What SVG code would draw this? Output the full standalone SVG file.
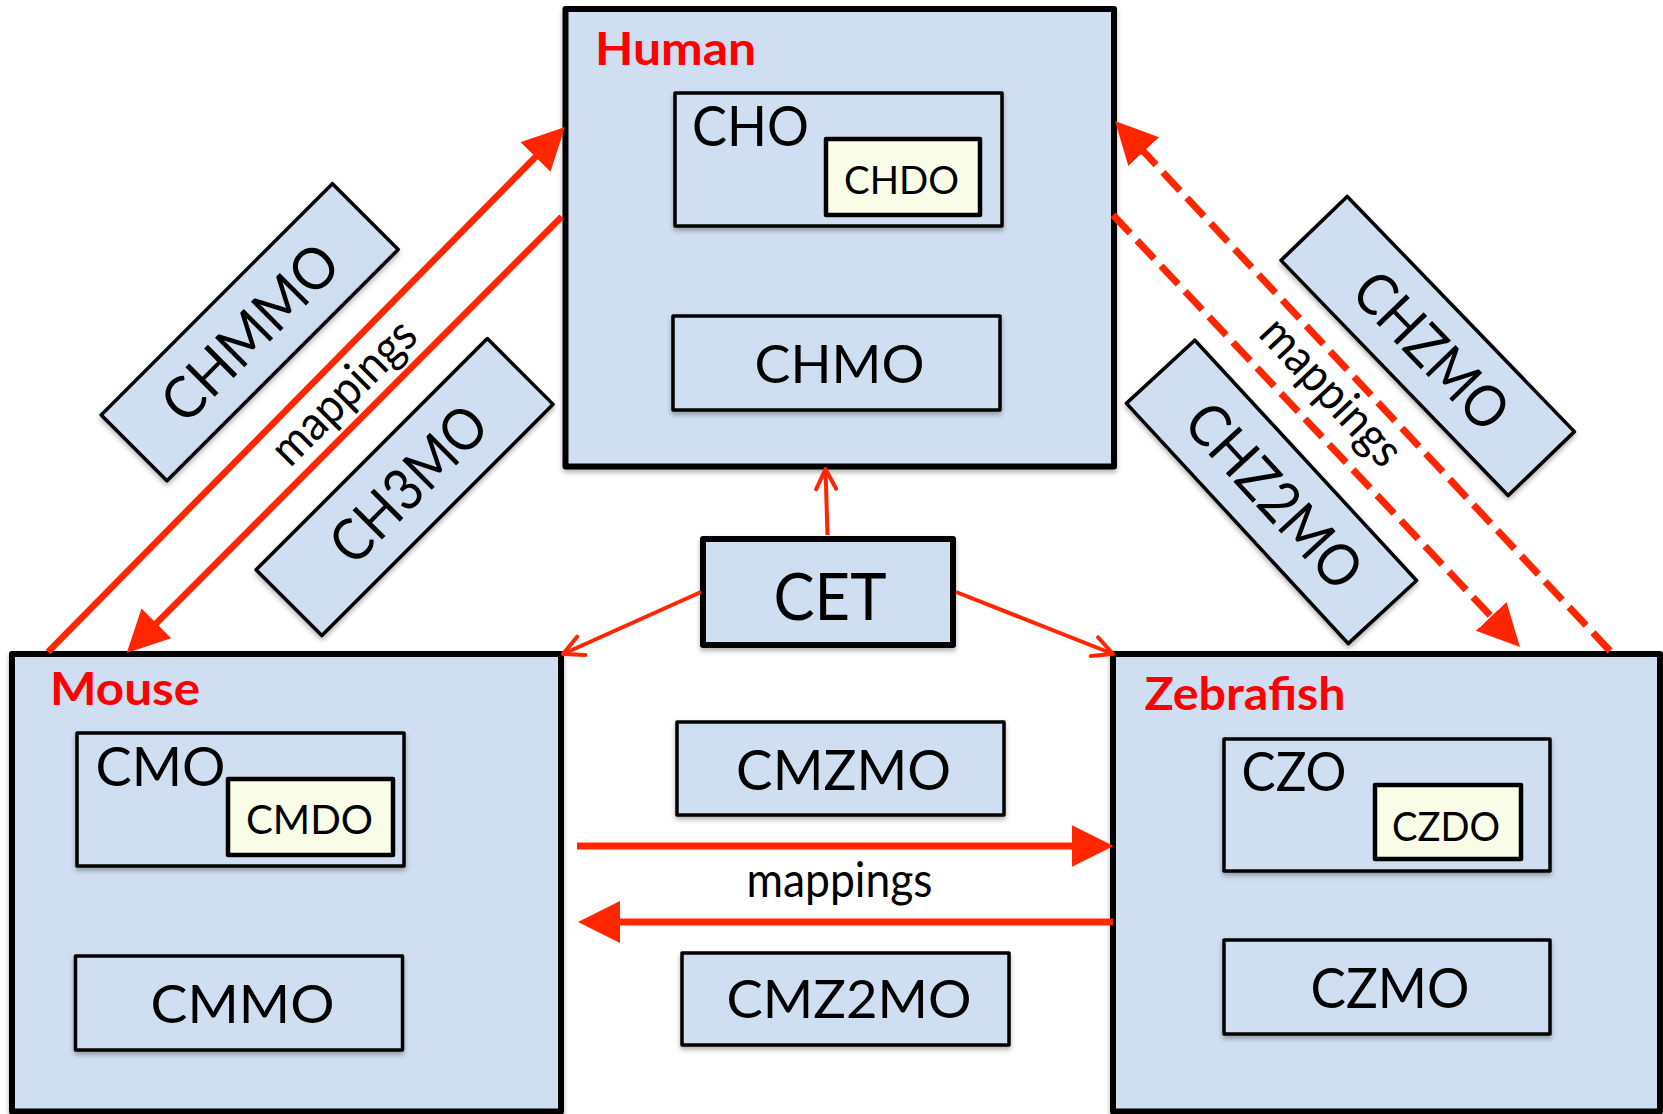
<svg xmlns="http://www.w3.org/2000/svg" width="1663" height="1114" viewBox="0 0 1663 1114">
<defs>
<style>
.box{fill:#cfdff1;stroke:#000;stroke-linejoin:round}
.outer{stroke-width:6}
.inner{stroke-width:3.5}
.leaf{fill:#f9fce6;stroke:#000;stroke-width:4.5;stroke-linejoin:round}
.rot{stroke-width:3.5}
.t{font-family:Lato,'Open Sans',sans-serif;fill:#000}
.lbl{font-family:Lato,'Open Sans',sans-serif;font-weight:bold;fill:#ff0000;font-size:46px}
.solid{stroke:#ff2600;fill:none;stroke-width:6.5}
.hz{stroke:#ff2600;fill:none;stroke-width:7}
.dash{stroke:#ff2600;fill:none;stroke-width:7;stroke-dasharray:25 10}
.thin{stroke:#ff2600;fill:none;stroke-width:4}
</style>
<filter id="sh" x="-10%" y="-10%" width="120%" height="130%">
<feDropShadow dx="0" dy="3" stdDeviation="2.5" flood-color="#000" flood-opacity="0.3"/>
</filter>
<marker id="head" markerUnits="userSpaceOnUse" markerWidth="44" markerHeight="44" viewBox="0 0 44 44" refX="12" refY="21" orient="auto">
<path d="M0,0 L42,21 L0,42 Z" fill="#ff2600"/>
</marker>
<marker id="open" markerUnits="userSpaceOnUse" markerWidth="30" markerHeight="28" viewBox="0 0 30 28" refX="24" refY="13" orient="auto" overflow="visible">
<path d="M4,3 L24,13 L4,23" fill="none" stroke="#ff2600" stroke-width="4" stroke-linecap="round" stroke-linejoin="round"/>
</marker>
</defs>
<rect width="1663" height="1114" fill="#fff"/>

<g id="human">
<rect class="box outer" filter="url(#sh)" x="565.5" y="9" width="548.5" height="457.5"/>
<text class="lbl" x="675.5" y="65" text-anchor="middle" textLength="161" lengthAdjust="spacingAndGlyphs">Human</text>
</g>
<g id="cho">
<rect class="box inner" filter="url(#sh)" x="675" y="93" width="327" height="133"/>
<text class="t" x="750.5" y="146" font-size="56" text-anchor="middle" textLength="117" lengthAdjust="spacingAndGlyphs">CHO</text>
</g>
<g id="chdo">
<rect class="leaf" x="826" y="139" width="154" height="76"/>
<text class="t" x="901.5" y="194" font-size="39" text-anchor="middle" textLength="115" lengthAdjust="spacingAndGlyphs">CHDO</text>
</g>
<g id="chmo">
<rect class="box inner" filter="url(#sh)" x="673" y="316" width="327" height="94"/>
<text class="t" x="839.5" y="383" font-size="53" text-anchor="middle" textLength="170" lengthAdjust="spacingAndGlyphs">CHMO</text>
</g>

<g id="mouse">
<rect class="box outer" filter="url(#sh)" x="12" y="654" width="549" height="457.5"/>
<text class="lbl" x="125" y="705" text-anchor="middle" textLength="150" lengthAdjust="spacingAndGlyphs">Mouse</text>
</g>
<g id="cmo">
<rect class="box inner" filter="url(#sh)" x="77" y="733" width="327" height="133"/>
<text class="t" x="160.5" y="786" font-size="54" text-anchor="middle" textLength="130" lengthAdjust="spacingAndGlyphs">CMO</text>
</g>
<g id="cmdo">
<rect class="leaf" x="228" y="779" width="165" height="76"/>
<text class="t" x="309.5" y="834" font-size="40" text-anchor="middle" textLength="127" lengthAdjust="spacingAndGlyphs">CMDO</text>
</g>
<g id="cmmo">
<rect class="box inner" filter="url(#sh)" x="75.5" y="956" width="327" height="94"/>
<text class="t" x="242.5" y="1023" font-size="53" text-anchor="middle" textLength="184" lengthAdjust="spacingAndGlyphs">CMMO</text>
</g>

<g id="zebrafish">
<rect class="box outer" filter="url(#sh)" x="1113" y="654" width="547" height="457.5"/>
<text class="lbl" x="1245" y="710" text-anchor="middle" textLength="201" lengthAdjust="spacingAndGlyphs">Zebrafish</text>
</g>
<g id="czo">
<rect class="box inner" filter="url(#sh)" x="1224" y="739" width="326" height="132"/>
<text class="t" x="1294" y="791" font-size="54" text-anchor="middle" textLength="105" lengthAdjust="spacingAndGlyphs">CZO</text>
</g>
<g id="czdo">
<rect class="leaf" x="1375" y="785" width="146" height="74"/>
<text class="t" x="1446" y="841" font-size="40" text-anchor="middle" textLength="108" lengthAdjust="spacingAndGlyphs">CZDO</text>
</g>
<g id="czmo">
<rect class="box inner" filter="url(#sh)" x="1224" y="940" width="326" height="94"/>
<text class="t" x="1390" y="1008" font-size="56" text-anchor="middle" textLength="159" lengthAdjust="spacingAndGlyphs">CZMO</text>
</g>

<g id="cet">
<rect class="box outer" filter="url(#sh)" x="703" y="539" width="250" height="106"/>
<text class="t" x="830" y="620" font-size="65" text-anchor="middle" textLength="113" lengthAdjust="spacingAndGlyphs">CET</text>
</g>
<g id="cmzmo">
<rect class="box inner" filter="url(#sh)" x="677" y="722" width="327" height="93"/>
<text class="t" x="843.6" y="790" font-size="57" text-anchor="middle" textLength="215" lengthAdjust="spacingAndGlyphs">CMZMO</text>
</g>
<g id="cmz2mo">
<rect class="box inner" filter="url(#sh)" x="682" y="953" width="327" height="92"/>
<text class="t" x="849" y="1018" font-size="53" text-anchor="middle" textLength="245" lengthAdjust="spacingAndGlyphs">CMZ2MO</text>
</g>

<g id="chmmo">
<g filter="url(#sh)"><rect class="box rot" transform="translate(249.7,332.2) rotate(-45)" x="-163.5" y="-46.5" width="327" height="93"/></g>
<text class="t" transform="translate(249.7,332.2) rotate(-45)" x="0" y="21" font-size="58" text-anchor="middle" textLength="224" lengthAdjust="spacingAndGlyphs">CHMMO</text>
</g>
<g id="ch3mo">
<g filter="url(#sh)"><rect class="box rot" transform="translate(404.6,487.1) rotate(-45)" x="-163.5" y="-46.5" width="327" height="93"/></g>
<text class="t" transform="translate(404.6,487.1) rotate(-45)" x="5" y="21" font-size="58" text-anchor="middle" textLength="196" lengthAdjust="spacingAndGlyphs">CH3MO</text>
</g>
<g id="chzmo">
<g filter="url(#sh)"><rect class="box rot" transform="translate(1427.7,346) rotate(46)" x="-163.5" y="-46" width="327" height="92"/></g>
<text class="t" transform="translate(1427.7,346) rotate(46)" x="6" y="21" font-size="58" text-anchor="middle" textLength="195" lengthAdjust="spacingAndGlyphs">CHZMO</text>
</g>
<g id="chz2mo">
<g filter="url(#sh)"><rect class="box rot" transform="translate(1271.5,491.9) rotate(47.3)" x="-163.5" y="-46.5" width="327" height="93"/></g>
<text class="t" transform="translate(1271.5,491.9) rotate(47.3)" x="4.6" y="21" font-size="58" text-anchor="middle" textLength="230" lengthAdjust="spacingAndGlyphs">CHZ2MO</text>
</g>

<g id="connectors">
<line class="solid" x1="48" y1="652" x2="543.95" y2="148.4" marker-end="url(#head)"/>
<line class="solid" x1="561.7" y1="216.7" x2="147.9" y2="631.8" marker-end="url(#head)"/>
<line class="hz" x1="577" y1="846" x2="1083.6" y2="846" marker-end="url(#head)"/>
<line class="hz" x1="1113" y1="922" x2="608" y2="922" marker-end="url(#head)"/>
<line class="dash" x1="1610" y1="651" x2="1135.5" y2="142.9" marker-end="url(#head)"/>
<line class="dash" x1="1113" y1="215" x2="1499.4" y2="625.2" marker-end="url(#head)"/>
<line class="thin" x1="701" y1="592" x2="563" y2="654" marker-end="url(#open)"/>
<line class="thin" x1="956" y1="592" x2="1113" y2="654" marker-end="url(#open)"/>
<line class="thin" x1="827.5" y1="535" x2="825.5" y2="469" marker-end="url(#open)"/>
<text class="t" x="839.5" y="897" font-size="48" text-anchor="middle" textLength="186" lengthAdjust="spacingAndGlyphs">mappings</text>
<text class="t" transform="translate(355,403.5) rotate(-45)" x="0" y="0" font-size="48" text-anchor="middle" textLength="184" lengthAdjust="spacingAndGlyphs">mappings</text>
<text class="t" transform="translate(1319.8,402.6) rotate(47)" x="0" y="0" font-size="48" text-anchor="middle" textLength="184" lengthAdjust="spacingAndGlyphs">mappings</text>
</g>
</svg>
